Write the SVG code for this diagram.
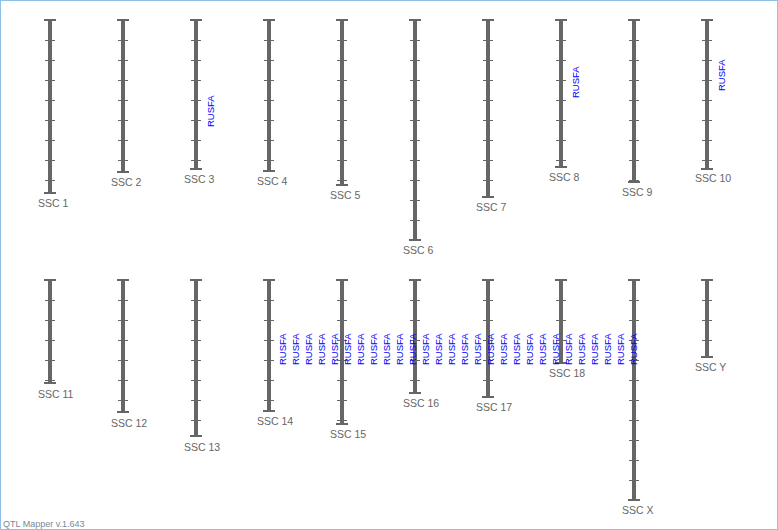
<svg xmlns="http://www.w3.org/2000/svg" width="778" height="530" viewBox="0 0 778 530">
<style>
.bar{fill:#666}
.cap{stroke:#666;stroke-width:2;fill:none}
.tick{stroke:#666;stroke-width:1;fill:none}
.lbl{font-family:"Liberation Sans",Arial,sans-serif;font-size:10.5px;fill:#666}
.qtl{font-family:"Liberation Sans",Arial,sans-serif;font-size:9.5px;fill:#0000ff}
.foot{font-family:"Liberation Sans",Arial,sans-serif;font-size:9px;fill:#778899}
</style>
<rect x="0.5" y="0.5" width="777" height="529" fill="#fff" stroke="#90c0e8" stroke-width="1"/>
<g id="chromosomes">
<g id="ssc1"><rect class="bar" x="48" y="20" width="4" height="173"/><path class="cap" d="M44 20H56M44 193H56"/><path class="tick" d="M45 40.5H55M45 60.5H55M45 80.5H55M45 100.5H55M45 120.5H55M45 140.5H55M45 160.5H55M45 180.5H55"/><text class="lbl" x="38" y="207">SSC 1</text></g>
<g id="ssc2"><rect class="bar" x="121" y="20" width="4" height="152"/><path class="cap" d="M117 20H129M117 172H129"/><path class="tick" d="M118 40.5H128M118 60.5H128M118 80.5H128M118 100.5H128M118 120.5H128M118 140.5H128M118 160.5H128"/><text class="lbl" x="111" y="186">SSC 2</text></g>
<g id="ssc3"><rect class="bar" x="194" y="20" width="4" height="149"/><path class="cap" d="M190 20H202M190 169H202"/><path class="tick" d="M191 40.5H201M191 60.5H201M191 80.5H201M191 100.5H201M191 120.5H201M191 140.5H201M191 160.5H201"/><text class="lbl" x="184" y="183">SSC 3</text><text class="qtl" transform="translate(213.5 127) rotate(-90)">RUSFA</text></g>
<g id="ssc4"><rect class="bar" x="267" y="20" width="4" height="151"/><path class="cap" d="M263 20H275M263 171H275"/><path class="tick" d="M264 40.5H274M264 60.5H274M264 80.5H274M264 100.5H274M264 120.5H274M264 140.5H274M264 160.5H274"/><text class="lbl" x="257" y="185">SSC 4</text></g>
<g id="ssc5"><rect class="bar" x="340" y="20" width="4" height="165"/><path class="cap" d="M336 20H348M336 185H348"/><path class="tick" d="M337 40.5H347M337 60.5H347M337 80.5H347M337 100.5H347M337 120.5H347M337 140.5H347M337 160.5H347M337 180.5H347"/><text class="lbl" x="330" y="199">SSC 5</text></g>
<g id="ssc6"><rect class="bar" x="413" y="20" width="4" height="220"/><path class="cap" d="M409 20H421M409 240H421"/><path class="tick" d="M410 40.5H420M410 60.5H420M410 80.5H420M410 100.5H420M410 120.5H420M410 140.5H420M410 160.5H420M410 180.5H420M410 200.5H420M410 220.5H420"/><text class="lbl" x="403" y="254">SSC 6</text></g>
<g id="ssc7"><rect class="bar" x="486" y="20" width="4" height="177"/><path class="cap" d="M482 20H494M482 197H494"/><path class="tick" d="M483 40.5H493M483 60.5H493M483 80.5H493M483 100.5H493M483 120.5H493M483 140.5H493M483 160.5H493M483 180.5H493"/><text class="lbl" x="476" y="211">SSC 7</text></g>
<g id="ssc8"><rect class="bar" x="559" y="20" width="4" height="147"/><path class="cap" d="M555 20H567M555 167H567"/><path class="tick" d="M556 40.5H566M556 60.5H566M556 80.5H566M556 100.5H566M556 120.5H566M556 140.5H566M556 160.5H566"/><text class="lbl" x="549" y="181">SSC 8</text><text class="qtl" transform="translate(578.5 98) rotate(-90)">RUSFA</text></g>
<g id="ssc9"><rect class="bar" x="632" y="20" width="4" height="162"/><path class="cap" d="M628 20H640M628 182H640"/><path class="tick" d="M629 40.5H639M629 60.5H639M629 80.5H639M629 100.5H639M629 120.5H639M629 140.5H639M629 160.5H639M629 180.5H639"/><text class="lbl" x="622" y="196">SSC 9</text></g>
<g id="ssc10"><rect class="bar" x="705" y="20" width="4" height="149"/><path class="cap" d="M701 20H713M701 169H713"/><path class="tick" d="M702 40.5H712M702 60.5H712M702 80.5H712M702 100.5H712M702 120.5H712M702 140.5H712M702 160.5H712"/><text class="lbl" x="695" y="182">SSC 10</text><text class="qtl" transform="translate(724.5 91) rotate(-90)">RUSFA</text></g>
<g id="ssc11"><rect class="bar" x="48" y="280" width="4" height="103"/><path class="cap" d="M44 280H56M44 383H56"/><path class="tick" d="M45 300.5H55M45 320.5H55M45 340.5H55M45 360.5H55M45 380.5H55"/><text class="lbl" x="38" y="398">SSC 11</text></g>
<g id="ssc12"><rect class="bar" x="121" y="280" width="4" height="132"/><path class="cap" d="M117 280H129M117 412H129"/><path class="tick" d="M118 300.5H128M118 320.5H128M118 340.5H128M118 360.5H128M118 380.5H128M118 400.5H128"/><text class="lbl" x="111" y="427">SSC 12</text></g>
<g id="ssc13"><rect class="bar" x="194" y="280" width="4" height="156"/><path class="cap" d="M190 280H202M190 436H202"/><path class="tick" d="M191 300.5H201M191 320.5H201M191 340.5H201M191 360.5H201M191 380.5H201M191 400.5H201M191 420.5H201"/><text class="lbl" x="184" y="451">SSC 13</text></g>
<g id="ssc14"><rect class="bar" x="267" y="280" width="4" height="131"/><path class="cap" d="M263 280H275M263 411H275"/><path class="tick" d="M264 300.5H274M264 320.5H274M264 340.5H274M264 360.5H274M264 380.5H274M264 400.5H274"/><text class="lbl" x="257" y="425">SSC 14</text></g>
<g id="ssc15"><rect class="bar" x="340" y="280" width="4" height="144"/><path class="cap" d="M336 280H348M336 424H348"/><path class="tick" d="M337 300.5H347M337 320.5H347M337 340.5H347M337 360.5H347M337 380.5H347M337 400.5H347M337 420.5H347"/><text class="lbl" x="330" y="438">SSC 15</text></g>
<g id="ssc16"><rect class="bar" x="413" y="280" width="4" height="113"/><path class="cap" d="M409 280H421M409 393H421"/><path class="tick" d="M410 300.5H420M410 320.5H420M410 340.5H420M410 360.5H420M410 380.5H420"/><text class="lbl" x="403" y="407">SSC 16</text></g>
<g id="ssc17"><rect class="bar" x="486" y="280" width="4" height="117"/><path class="cap" d="M482 280H494M482 397H494"/><path class="tick" d="M483 300.5H493M483 320.5H493M483 340.5H493M483 360.5H493M483 380.5H493"/><text class="lbl" x="476" y="411">SSC 17</text></g>
<g id="ssc18"><rect class="bar" x="559" y="280" width="4" height="83"/><path class="cap" d="M555 280H567M555 363H567"/><path class="tick" d="M556 300.5H566M556 320.5H566M556 340.5H566"/><text class="lbl" x="549" y="377">SSC 18</text></g>
<g id="sscX"><rect class="bar" x="632" y="280" width="4" height="220"/><path class="cap" d="M628 280H640M628 500H640"/><path class="tick" d="M629 300.5H639M629 320.5H639M629 340.5H639M629 360.5H639M629 380.5H639M629 400.5H639M629 420.5H639M629 440.5H639M629 460.5H639M629 480.5H639"/><text class="lbl" x="622" y="514">SSC X</text></g>
<g id="sscY"><rect class="bar" x="705" y="280" width="4" height="77"/><path class="cap" d="M701 280H713M701 357H713"/><path class="tick" d="M702 300.5H712M702 320.5H712M702 340.5H712"/><text class="lbl" x="695" y="371">SSC Y</text></g>
</g>
<g id="qtl-labels">
<text class="qtl" transform="translate(286.3 365) rotate(-90)">RUSFA</text>
<text class="qtl" transform="translate(299.3 365) rotate(-90)">RUSFA</text>
<text class="qtl" transform="translate(312.3 365) rotate(-90)">RUSFA</text>
<text class="qtl" transform="translate(325.3 365) rotate(-90)">RUSFA</text>
<text class="qtl" transform="translate(338.3 365) rotate(-90)">RUSFA</text>
<text class="qtl" transform="translate(351.3 365) rotate(-90)">RUSFA</text>
<text class="qtl" transform="translate(364.3 365) rotate(-90)">RUSFA</text>
<text class="qtl" transform="translate(377.3 365) rotate(-90)">RUSFA</text>
<text class="qtl" transform="translate(390.3 365) rotate(-90)">RUSFA</text>
<text class="qtl" transform="translate(403.3 365) rotate(-90)">RUSFA</text>
<text class="qtl" transform="translate(416.3 365) rotate(-90)">RUSFA</text>
<text class="qtl" transform="translate(429.3 365) rotate(-90)">RUSFA</text>
<text class="qtl" transform="translate(442.3 365) rotate(-90)">RUSFA</text>
<text class="qtl" transform="translate(455.3 365) rotate(-90)">RUSFA</text>
<text class="qtl" transform="translate(468.3 365) rotate(-90)">RUSFA</text>
<text class="qtl" transform="translate(481.3 365) rotate(-90)">RUSFA</text>
<text class="qtl" transform="translate(494.3 365) rotate(-90)">RUSFA</text>
<text class="qtl" transform="translate(507.3 365) rotate(-90)">RUSFA</text>
<text class="qtl" transform="translate(520.3 365) rotate(-90)">RUSFA</text>
<text class="qtl" transform="translate(533.3 365) rotate(-90)">RUSFA</text>
<text class="qtl" transform="translate(546.3 365) rotate(-90)">RUSFA</text>
<text class="qtl" transform="translate(559.3 365) rotate(-90)">RUSFA</text>
<text class="qtl" transform="translate(572.3 365) rotate(-90)">RUSFA</text>
<text class="qtl" transform="translate(585.3 365) rotate(-90)">RUSFA</text>
<text class="qtl" transform="translate(598.3 365) rotate(-90)">RUSFA</text>
<text class="qtl" transform="translate(611.3 365) rotate(-90)">RUSFA</text>
<text class="qtl" transform="translate(624.3 365) rotate(-90)">RUSFA</text>
<text class="qtl" transform="translate(637.3 365) rotate(-90)">RUSFA</text>
</g>
<text class="foot" x="3" y="527">QTL Mapper v.1.643</text>
</svg>
